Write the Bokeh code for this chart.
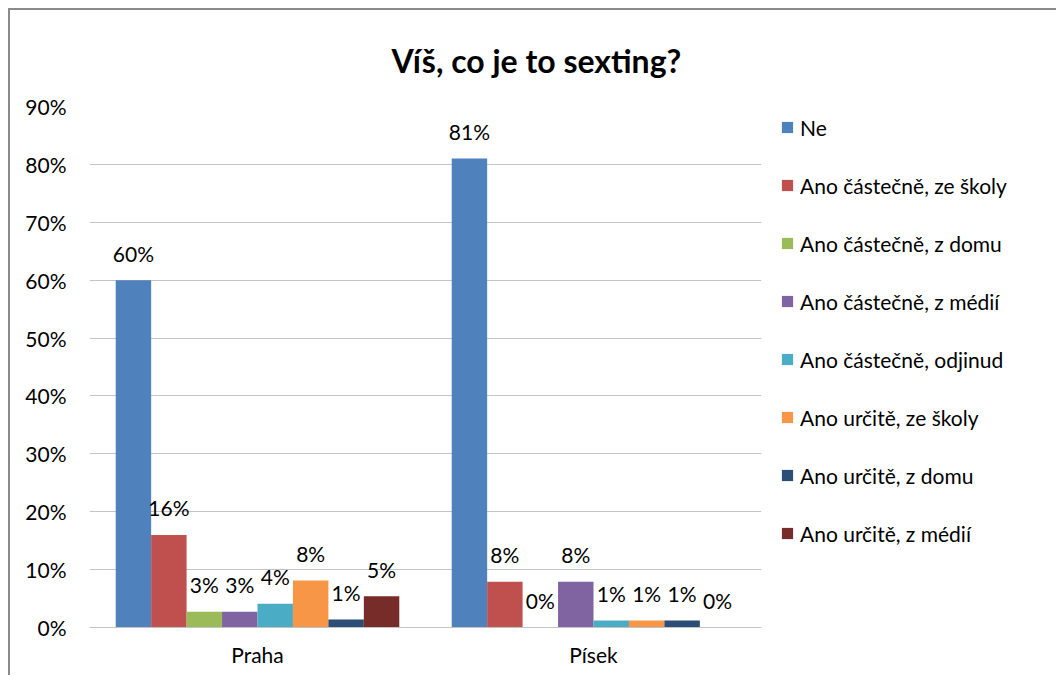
from bokeh.plotting import figure
from bokeh.models import ColumnDataSource, FactorRange, Legend, LegendItem, FixedTicker, PrintfTickFormatter
from bokeh.transform import dodge
from bokeh.core.properties import value
from bokeh.embed import file_html
from bokeh.resources import INLINE

title_text = "Víš, co je to sexting?"
cities = ["Praha", "Písek"]
series = ["Ne", "Ano částečně, ze školy", "Ano částečně, z domu", "Ano částečně, z médií",
          "Ano částečně, odjinud", "Ano určitě, ze školy", "Ano určitě, z domu", "Ano určitě, z médií"]
praha = [60, 16, 2.7, 2.7, 4.1, 8.1, 1.4, 5.4]
pisek = [81, 7.9, 0, 7.9, 1.2, 1.2, 1.2, 0]
colors = ["#4F81BD", "#C0504D", "#9BBB59", "#8064A2", "#4BACC6", "#F79646", "#2C4D75", "#772C2A"]
yticks = [0, 10, 20, 30, 40, 50, 60, 70, 80, 90]

FONT = "Lato"
FS = "21px"

p = figure(x_range=FactorRange(*cities, range_padding=0), y_range=(0, 90),
           frame_width=672, frame_height=521, output_backend="svg", toolbar_location=None,
           min_border_left=79, min_border_right=10, min_border_top=96, min_border_bottom=48,
           margin=(8, 0, 0, 8), title=title_text)
p.styles = {"border-left": "2px solid #8a8a8a", "border-top": "2px solid #8a8a8a"}

p.title.text_font = FONT
p.title.text_font_size = "32px"
p.title.text_font_style = "bold"
p.title.text_color = "#000000"
p.title.align = "left"
p.title.offset = 302
p.title.standoff = 54

bw = 0.1055
items = []
for i, (name, col) in enumerate(zip(series, colors)):
    vals = [praha[i], pisek[i]]
    src = ColumnDataSource(dict(x=cities, y=vals, lab=[f"{round(v)}%" for v in vals]))
    off = (i - 3.5) * bw
    r = p.vbar(x=dodge("x", off, range=p.x_range), top="y", width=bw, source=src,
               fill_color=col, line_color=None)
    p.text(x=dodge("x", off, range=p.x_range), y="y", text="lab", source=src,
           text_font=value(FONT), text_font_size=FS, text_align="center",
           text_baseline="alphabetic", y_offset=-27, text_color="#000000")
    items.append(LegendItem(label=name, renderers=[r]))

legend = Legend(items=items, location=(19, 81), padding=0, margin=0, spacing=32,
                glyph_width=14, glyph_height=14, label_height=26, label_standoff=6,
                label_text_font=FONT, label_text_font_size=FS, label_text_color="#000000",
                border_line_color=None, background_fill_alpha=0)
p.add_layout(legend, "right")

p.yaxis.ticker = FixedTicker(ticks=yticks)
p.yaxis.formatter = PrintfTickFormatter(format="%d%%")
p.yaxis.axis_line_color = None
p.yaxis.major_tick_line_color = None
p.yaxis.minor_tick_line_color = None
p.yaxis.major_label_standoff = 17
p.yaxis.major_label_text_font = FONT
p.yaxis.major_label_text_font_size = FS
p.yaxis.major_label_text_color = "#000000"

p.xaxis.axis_line_color = "#c4c4c4"
p.xaxis.major_tick_line_color = None
p.xaxis.minor_tick_line_color = None
p.xaxis.major_label_standoff = 8
p.xaxis.major_label_text_font = FONT
p.xaxis.major_label_text_font_size = FS
p.xaxis.major_label_text_color = "#000000"

p.xgrid.grid_line_color = None
p.ygrid.grid_line_color = "#c4c4c4"
p.outline_line_color = None

open("out.html", "w").write(file_html(p, INLINE))
